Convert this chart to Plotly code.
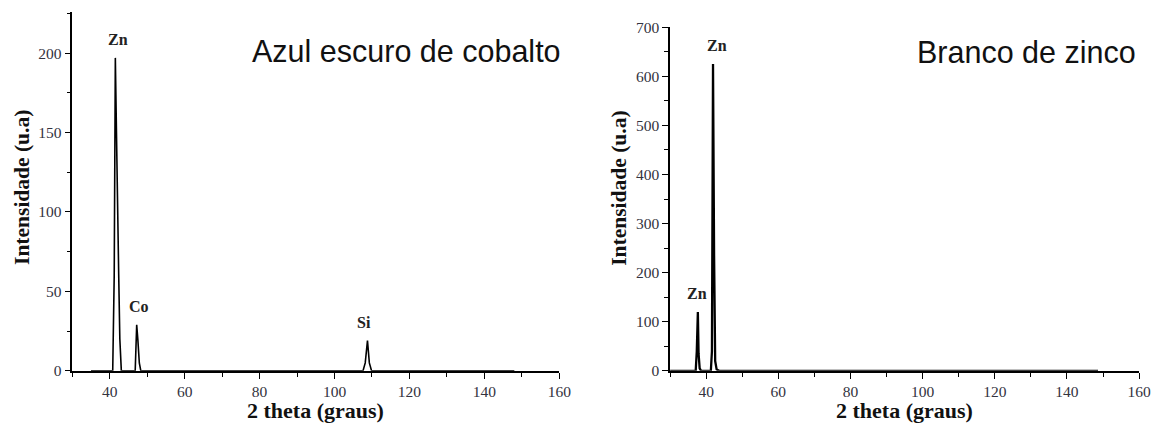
import plotly.graph_objects as go

# Left panel: Azul escuro de cobalto
left_x = [35, 40.8, 41.2, 41.5, 41.8, 42.1, 42.4, 42.7, 43.1, 46.8, 47.2, 47.5, 47.9, 48.3,
          107.6, 108.2, 108.8, 109.3, 109.9, 148]
left_y = [0, 0, 60, 197, 150, 90, 60, 20, 0, 0, 29, 20, 5, 0,
          0, 5, 19, 5, 0, 0]

# Right panel: Branco de zinco
right_x = [30, 37.1, 37.4, 37.7, 37.9, 38.2, 38.6, 41.3, 41.6, 41.9, 42.2, 42.5, 42.9, 43.6, 148.6]
right_y = [0, 0, 40, 120, 35, 5, 0, 0, 40, 625, 235, 20, 3, 0, 0]

left_labels = ["Zn", "Co", "Si"]
left_label_x = [42.3, 47.8, 107.8]
left_label_y = [197, 29, 19]

right_labels = ["Zn", "Zn"]
right_label_x = [37.4, 43.0]
right_label_y = [120, 625]

titles = ["Azul escuro de cobalto", "Branco de zinco"]
x_title = "2 theta (graus)"
y_title = "Intensidade (u.a)"

W, H = 1159, 423
serif = "Liberation Serif, Times New Roman, serif"
sans = "Liberation Sans, Arial, sans-serif"

# empirical compensation of the capture (target pixel -> layout pixel)
AX, BX = 0.9916, -2.4
CY, DY = 0.9636, 7.7

def px_x(p):
    return ((p - BX) / AX) / W

def px_y(p):
    return 1 - ((p - DY) / CY) / H

fig = go.Figure()
fig.add_trace(go.Scatter(x=left_x, y=left_y, mode="lines",
                         line=dict(color="black", width=1.6), xaxis="x", yaxis="y",
                         showlegend=False))
fig.add_trace(go.Scatter(x=right_x, y=right_y, mode="lines",
                         line=dict(color="black", width=2.3), xaxis="x2", yaxis="y2",
                         showlegend=False))

axis_common = dict(showgrid=False, zeroline=False, showline=True, linecolor="black",
                   linewidth=1.5, ticks="outside", ticklen=6, tickwidth=1.3,
                   tickcolor="black",
                   tickfont=dict(family=serif, size=15.5, color="#333340"))

fig.update_layout(
    width=W, height=H, margin=dict(l=0, r=0, t=0, b=0),
    plot_bgcolor="white", paper_bgcolor="white",
    xaxis=dict(domain=[px_x(70), px_x(558)], range=[30, 160], dtick=20, tick0=0,
               minor=dict(dtick=10, ticks="outside", ticklen=4, tickcolor="black"),
               anchor="y", **axis_common),
    yaxis=dict(domain=[px_y(371), px_y(11)], range=[0, 225.7], dtick=50,
               minor=dict(dtick=25, ticks="outside", ticklen=4, tickcolor="black"),
               anchor="x", **axis_common),
    xaxis2=dict(domain=[px_x(669), px_x(1139)], range=[30, 160], dtick=20, tick0=0,
                minor=dict(dtick=10, ticks="outside", ticklen=4, tickcolor="black"),
                anchor="y2", **axis_common),
    yaxis2=dict(domain=[px_y(371), px_y(26)], range=[0, 700], dtick=100,
                minor=dict(dtick=50, ticks="outside", ticklen=4, tickcolor="black"),
                anchor="x2", **axis_common),
)

ann = []
# Axis titles
for cx in [314, 904]:
    ann.append(dict(text=f"<b>{x_title}</b>", x=px_x(cx), y=px_y(411), xref="paper", yref="paper",
                    showarrow=False, font=dict(family=serif, size=22, color="#111"),
                    xanchor="center", yanchor="middle"))
for cx, cy in [(19, 187), (617, 188)]:
    ann.append(dict(text=f"<b>{y_title}</b>", x=px_x(cx), y=px_y(cy), xref="paper", yref="paper",
                    showarrow=False, textangle=-90, font=dict(family=serif, size=21.5, color="#111"),
                    xanchor="center", yanchor="middle"))
# Panel titles
ann.append(dict(text=titles[0], x=px_x(248), y=px_y(50), xref="paper", yref="paper",
                showarrow=False, font=dict(family=sans, size=30.5, color="#111"),
                xanchor="left", yanchor="middle"))
ann.append(dict(text=titles[1], x=px_x(1138), y=px_y(51), xref="paper", yref="paper",
                showarrow=False, font=dict(family=sans, size=30.5, color="#111"),
                xanchor="right", yanchor="middle"))
# Peak labels
for t, lx, ly in zip(left_labels, left_label_x, left_label_y):
    ann.append(dict(text=f"<b>{t}</b>", x=lx, y=ly, xref="x", yref="y", showarrow=False,
                    font=dict(family=serif, size=16, color="#222"),
                    xanchor="center", yanchor="bottom", yshift=8))
for t, lx, ly in zip(right_labels, right_label_x, right_label_y):
    ann.append(dict(text=f"<b>{t}</b>", x=lx, y=ly, xref="x2", yref="y2", showarrow=False,
                    font=dict(family=serif, size=16, color="#222"),
                    xanchor="center", yanchor="bottom", yshift=8))
fig.update_layout(annotations=ann)

fig.write_html("out.html")
